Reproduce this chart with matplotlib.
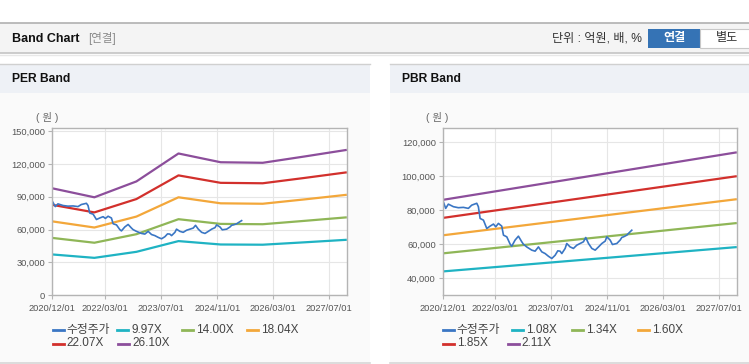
import numpy as np
import matplotlib
matplotlib.use('Agg')
import matplotlib.pyplot as plt
import matplotlib.dates as mdates
from matplotlib.lines import Line2D
from matplotlib.patches import Rectangle

plt.rcParams['font.family'] = ['Liberation Sans', 'Noto Sans CJK KR']

W, H = 749, 364

# ---- data ----
band_dates = ['2020-12-01', '2021-12-01', '2022-12-01', '2023-12-01',
              '2024-12-01', '2025-12-01', '2026-12-01', '2027-12-01']
per_997  = [37300, 34200, 39700, 49500, 46400, 46200, 48400, 50700]
per_1400 = [52400, 48000, 55800, 69500, 65200, 64900, 68000, 71200]
per_1804 = [67500, 61900, 71900, 89500, 84000, 83600, 87600, 91800]
per_2207 = [82600, 75700, 87900, 109500, 102700, 102300, 107200, 112300]
per_2610 = [97700, 89500, 104000, 129500, 121500, 121000, 126800, 132800]
per_labels = ['9.97X', '14.00X', '18.04X', '22.07X', '26.10X']

pbr_dates = ['2020-12-01', '2027-12-01']
pbr_108 = [44000, 58300]
pbr_134 = [54600, 72400]
pbr_160 = [65200, 86400]
pbr_185 = [75400, 99900]
pbr_211 = [86000, 113900]
pbr_labels = ['1.08X', '1.34X', '1.60X', '1.85X', '2.11X']

price_dates = ['2020-12-01', '2020-12-27', '2021-01-19', '2021-03-04', '2021-04-16',
               '2021-05-30', '2021-07-12', '2021-08-10', '2021-09-23', '2021-10-07',
               '2021-10-22', '2021-11-20', '2021-12-19', '2022-01-17', '2022-02-15',
               '2022-03-07', '2022-03-30', '2022-04-28', '2022-05-13', '2022-06-11',
               '2022-07-10', '2022-07-24', '2022-08-22', '2022-09-20', '2022-10-19',
               '2022-11-02', '2022-12-01', '2023-01-14', '2023-02-12', '2023-03-13',
               '2023-04-11', '2023-05-10', '2023-06-08', '2023-07-07', '2023-08-05',
               '2023-08-28', '2023-09-17', '2023-10-02', '2023-10-31', '2023-11-14',
               '2023-12-13', '2024-01-11', '2024-02-09', '2024-03-09', '2024-04-07',
               '2024-04-27', '2024-05-21', '2024-06-19', '2024-07-18', '2024-08-16',
               '2024-09-14', '2024-10-13', '2024-10-27', '2024-11-25', '2024-12-15',
               '2025-01-22', '2025-02-20', '2025-03-07', '2025-03-21', '2025-04-19',
               '2025-05-03', '2025-06-01']
price_vals = [85900, 81000, 83500, 82000, 81400,
              81600, 81000, 82900, 84000, 82000,
              75100, 74100, 69200, 70600, 71800,
              70200, 72200, 70600, 65300, 64300,
              60000, 58800, 62400, 64700, 61400,
              60000, 58400, 56500, 55900, 58400,
              55500, 54500, 52900, 51600, 53500,
              56100, 55900, 54500, 57500, 60400,
              58400, 57500, 59400, 60400, 61400,
              63900, 60400, 57500, 56500, 58400,
              60400, 61800, 64300, 62400, 59800,
              60400, 62400, 64000, 64300, 65300,
              66300, 68200]

x_ticks = ['2020-12-01', '2022-03-01', '2023-07-01', '2024-11-01',
           '2026-03-01', '2027-07-01']

C_PRICE = '#3a76c4'
BAND_COLORS = ['#1fb3c3', '#8fb657', '#f3a73a', '#d2302c', '#8c4e9b']


def fx(x):
    return x / W


def fy(y):
    return 1 - y / H


def rect(fig, x0, y0, x1, y1, fc, ec='none', lw=0, z=-5):
    fig.add_artist(Rectangle((fx(x0), fy(y1)), (x1 - x0) / W, (y1 - y0) / H,
                             transform=fig.transFigure, facecolor=fc,
                             edgecolor=ec, linewidth=lw, zorder=z))


def hline(fig, x0, x1, y, color, lw=1.0, z=-4):
    fig.add_artist(Line2D([fx(x0), fx(x1)], [fy(y), fy(y)],
                          transform=fig.transFigure, color=color, lw=lw, zorder=z))


def style_axes(ax, ylim, yticks):
    ax.set_facecolor('#ffffff')
    ax.set_ylim(*ylim)
    ax.set_yticks(yticks)
    ax.yaxis.set_major_formatter(plt.FuncFormatter(lambda v, p: f'{int(v):,}'))
    ax.set_xlim(np.datetime64('2020-12-01'), np.datetime64('2027-12-05'))
    ax.set_xticks([np.datetime64(d) for d in x_ticks])
    ax.xaxis.set_major_formatter(mdates.DateFormatter('%Y/%m/%d'))
    ax.grid(True, color='#e6e6e6', lw=0.8)
    ax.set_axisbelow(True)
    for s in ax.spines.values():
        s.set_color('#b4b4b4')
        s.set_linewidth(1.0)
    ax.tick_params(axis='both', labelsize=6.7, colors='#b4b4b4',
                   labelcolor='#555555', length=3, width=0.8, pad=2)
    ax.tick_params(axis='x', pad=3)


def legend_row(fig, items, slots):
    for (label, color), (x, y) in zip(items, slots):
        fig.add_artist(Line2D([fx(x), fx(x + 11)], [fy(y), fy(y)],
                              transform=fig.transFigure, color=color, lw=2.0))
        fig.text(fx(x + 14), fy(y), label, fontsize=8.5, color='#444444',
                 va='center', ha='left')


fig = plt.figure(figsize=(W / 100, H / 100), dpi=100)
fig.patch.set_facecolor('white')

# top header bar
rect(fig, 0, 23, W, 53, '#f4f4f4')
hline(fig, 0, W, 22.7, '#b0b0b0', lw=1.2)
hline(fig, 0, W, 53, '#c4c4c4', lw=1.2)
hline(fig, 0, W, 54.5, '#e8e8e8', lw=1.0)
fig.text(fx(12), fy(38.5), 'Band Chart', fontsize=9, fontweight='bold',
         color='#111111', va='center')
fig.text(fx(88), fy(38.5), '[연결]', fontsize=8.3, color='#8a8a8a', va='center')
fig.text(fx(642), fy(38.5), '단위 : 억원, 배, %', fontsize=8.7, color='#333333',
         va='center', ha='right')
rect(fig, 648, 28.7, 700, 47.7, '#3573b5', z=-3)
rect(fig, 700, 28.7, 752, 47.7, '#ffffff', ec='#c8c8c8', lw=0.8, z=-3)
fig.text(fx(674), fy(38.5), '연결', fontsize=8.7, fontweight='bold',
         color='white', va='center', ha='center')
fig.text(fx(727), fy(38.5), '별도', fontsize=8.7, color='#333333',
         va='center', ha='center')

# panels
for (px0, px1, title) in [(0, 370, 'PER Band'), (390, W + 2, 'PBR Band')]:
    rect(fig, px0, 93, px1, 362.5, '#fafafa')
    rect(fig, px0, 64, px1, 93, '#eef1f6')
    hline(fig, px0, px1, 64, '#d0d0d0', lw=1.0)
    hline(fig, px0, px1, 362.7, '#d6d6d6', lw=1.2)
    fig.text(fx(px0 + 12), fy(79.5), title, fontsize=8.7, fontweight='bold',
             color='#111111', va='center')

# PER band chart
ax1 = fig.add_axes([fx(52.3), fy(295.3), (347.3 - 52.3) / W, (295.3 - 128.3) / H])
bd = [np.datetime64(d) for d in band_dates]
for vals, c in zip([per_997, per_1400, per_1804, per_2207, per_2610], BAND_COLORS):
    ax1.plot(bd, vals, color=c, lw=1.6, solid_capstyle='butt')
pd_ = [np.datetime64(d) for d in price_dates]
ax1.plot(pd_, price_vals, color=C_PRICE, lw=1.2)
style_axes(ax1, (0, 152500), [0, 30000, 60000, 90000, 120000, 150000])
fig.text(fx(47.5), fy(118), '( 원 )', fontsize=7.5, color='#666666',
         va='center', ha='center')

# PBR band chart
ax2 = fig.add_axes([fx(442.7), fy(295.3), (737.3 - 442.7) / W, (295.3 - 128.3) / H])
bd2 = [np.datetime64(d) for d in pbr_dates]
for vals, c in zip([pbr_108, pbr_134, pbr_160, pbr_185, pbr_211], BAND_COLORS):
    ax2.plot(bd2, vals, color=c, lw=1.6, solid_capstyle='butt')
ax2.plot(pd_, price_vals, color=C_PRICE, lw=1.2)
style_axes(ax2, (30000, 128000), [40000, 60000, 80000, 100000, 120000])
fig.text(fx(437.5), fy(118), '( 원 )', fontsize=7.5, color='#666666',
         va='center', ha='center')

# legends
per_items = [('수정주가', C_PRICE)] + list(zip(per_labels, BAND_COLORS))
legend_row(fig, per_items,
           [(52.7, 330), (117.3, 330), (182.3, 330), (246.7, 330),
            (52.7, 343.5), (118.3, 343.5)])
pbr_items = [('수정주가', C_PRICE)] + list(zip(pbr_labels, BAND_COLORS))
legend_row(fig, pbr_items,
           [(442.7, 330), (511.7, 330), (572.3, 330), (637.7, 330),
            (442.7, 343.5), (507.7, 343.5)])

fig.savefig('out.png', dpi=100)
